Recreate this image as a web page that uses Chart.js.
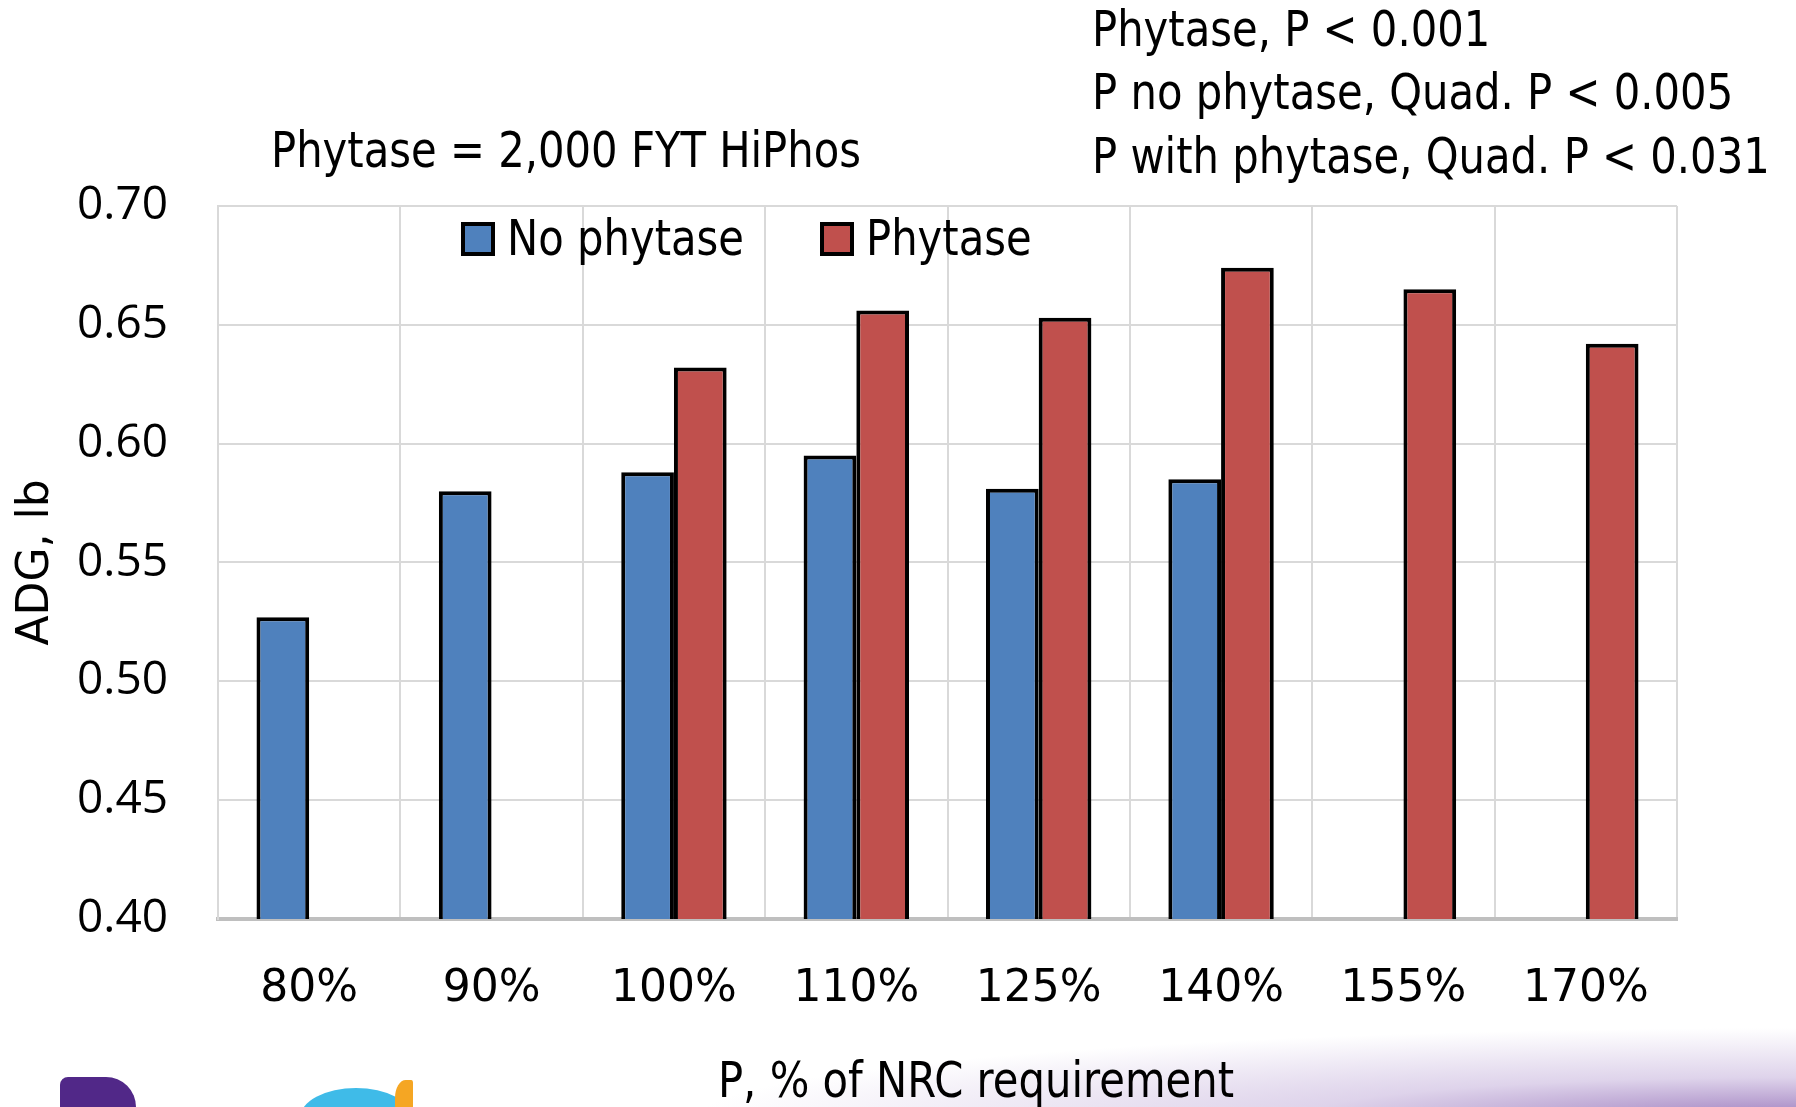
<!DOCTYPE html>
<html>
<head>
<meta charset="utf-8">
<script src="https://cdn.jsdelivr.net/npm/chart.js@4.4.1/dist/chart.umd.min.js"></script>
<style>
  html, body { margin: 0; padding: 0; }
  body {
    width: 1796px; height: 1107px; overflow: hidden; position: relative;
    background:
      radial-gradient(ellipse 1100px 90px at 1796px 1118px, rgba(150,115,185,0.9), rgba(195,175,218,0.55) 45%, rgba(255,255,255,0) 100%),
      #fff;
  }
  #c { position: absolute; left: 0; top: 0; }
  .logo1 { position: absolute; left: 60px; top: 1077px; width: 76px; height: 40px; background: #512888; border-radius: 8px 30px 0 0; }
  .logo2 { position: absolute; left: 300px; top: 1088px; width: 112px; height: 60px; background: #3fbbe8; border-radius: 50%; }
  .logo3 { position: absolute; left: 395px; top: 1080px; width: 18px; height: 30px; background: #f5a623; border-radius: 60% 10% 0 0; }
</style>
</head>
<body>
<div class="logo1"></div>
<div class="logo2"></div>
<div class="logo3"></div>
<canvas id="c" width="1796" height="1107"></canvas>
<script>
// data
const categories = ['80%', '90%', '100%', '110%', '125%', '140%', '155%', '170%'];
const noPhytase = [0.527, 0.580, 0.588, 0.595, 0.581, 0.585, null, null];
const withPhytase = [null, null, 0.632, 0.656, 0.653, 0.674, 0.665, 0.642];
const yTicks = [0.40, 0.45, 0.50, 0.55, 0.60, 0.65, 0.70];
const seriesNames = ['No phytase', 'Phytase'];
const leftNote = 'Phytase = 2,000 FYT HiPhos';
const rightNotes = ['Phytase, P < 0.001', 'P no phytase, Quad. P < 0.005', 'P with phytase, Quad. P < 0.031'];
const xTitle = 'P, % of NRC requirement';
const yTitle = 'ADG, lb';

const SANS = '"DejaVu Sans", sans-serif';
const TEXT_SIZE = 49;

// condensed text: squeeze horizontally so the note is as wide as in the slide
function squeezedText(ctx, t, x, y, k, align) {
  const w = ctx.measureText(t).width * k;
  let x0 = x;
  if (align === 'center') x0 = x - w / 2;
  ctx.save();
  ctx.translate(x0, y);
  ctx.scale(k, 1);
  ctx.textAlign = 'left';
  ctx.fillText(t, 0, 0);
  ctx.restore();
}

// legend + free text drawn on top
const notesPlugin = {
  id: 'notes',
  afterDraw(chart) {
    const ctx = chart.ctx;
    ctx.save();
    ctx.fillStyle = '#000';
    ctx.font = TEXT_SIZE + 'px ' + SANS;
    ctx.textBaseline = 'middle';
    const k = 590 / ctx.measureText(leftNote).width;

    squeezedText(ctx, leftNote, 271, 154, k);
    rightNotes.forEach((t, i) => squeezedText(ctx, t, 1092, 33 + i * 63.5, k));
    squeezedText(ctx, xTitle, 976, 1084, k, 'center');

    // legend inside the plot
    const legendX = [463, 822];
    chart.data.datasets.forEach((ds, i) => {
      const x = legendX[i], y = 239;
      ctx.fillStyle = ds.backgroundColor;
      ctx.fillRect(x, y - 15, 30, 30);
      ctx.lineWidth = 4;
      ctx.strokeStyle = '#000';
      ctx.strokeRect(x, y - 15, 30, 30);
      ctx.fillStyle = '#000';
      squeezedText(ctx, ds.label, x + 44, y + 3, k);
    });
    ctx.restore();
  }
};

new Chart(document.getElementById('c'), {
  type: 'bar',
  data: {
    labels: categories,
    datasets: [
      {
        label: seriesNames[0],
        data: noPhytase,
        backgroundColor: '#4F81BD',
        borderColor: '#000',
        borderWidth: 4
      },
      {
        label: seriesNames[1],
        data: withPhytase,
        backgroundColor: '#C0504D',
        borderColor: '#000',
        borderWidth: 4
      }
    ]
  },
  options: {
    responsive: false,
    animation: false,
    devicePixelRatio: 1,
    layout: { padding: { left: 0, top: 206, right: 119, bottom: 0 } },
    datasets: { bar: { categoryPercentage: 0.578, barPercentage: 1 } },
    plugins: {
      legend: { display: false },
      tooltip: { enabled: false }
    },
    scales: {
      x: {
        grid: { color: '#D9D9D9', lineWidth: 2, drawTicks: false },
        border: { color: '#BFBFBF', width: 4 },
        ticks: {
          color: '#000',
          padding: 44,
          font: { family: SANS, size: 44 }
        },
        afterFit(s) { s.height = 188; }
      },
      y: {
        min: 0.40,
        max: 0.70,
        grid: { color: '#D9D9D9', lineWidth: 2, drawTicks: false },
        border: { color: '#D9D9D9', width: 2 },
        afterBuildTicks(s) { s.ticks = yTicks.map(v => ({ value: v })); },
        ticks: {
          color: '#000',
          padding: 50,
          font: { family: '"Open Sans", sans-serif', size: 46 },
          callback: v => v.toFixed(2)
        },
        title: {
          display: true,
          text: yTitle,
          color: '#000',
          padding: { top: 10, bottom: 0 },
          font: { family: SANS, size: 44 }
        },
        afterFit(s) { s.width = 218; }
      }
    }
  },
  plugins: [notesPlugin]
});
</script>
</body>
</html>
